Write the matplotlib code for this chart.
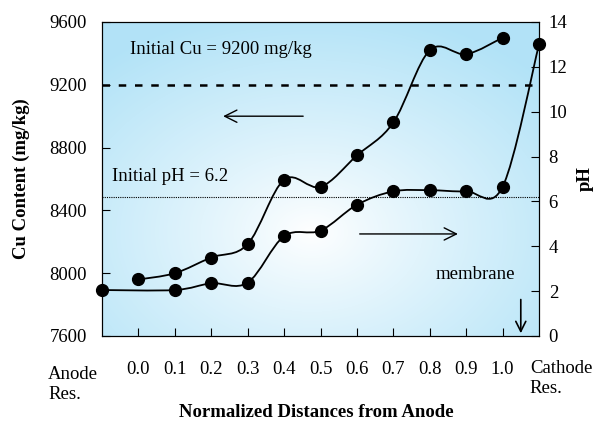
import numpy as np
import matplotlib.pyplot as plt
from matplotlib.path import Path
from matplotlib.patches import PathPatch
import matplotlib.transforms as mtransforms

plt.rcParams['font.family'] = ['Liberation Serif', 'DejaVu Serif']

# data
cu_x = [0.0, 0.1, 0.2, 0.3, 0.4, 0.5, 0.6, 0.7, 0.8, 0.9, 1.0]
cu_val = [7960, 8000, 8100, 8185, 8595, 8550, 8750, 8960, 9420, 9395, 9500]
ph_x = [-0.1, 0.1, 0.2, 0.3, 0.4, 0.5, 0.6, 0.7, 0.8, 0.9, 1.0, 1.1]
ph_val = [2.05, 2.05, 2.35, 2.38, 4.45, 4.7, 5.85, 6.45, 6.5, 6.45, 6.65, 13.0]
tick_pos = [0.0, 0.1, 0.2, 0.3, 0.4, 0.5, 0.6, 0.7, 0.8, 0.9, 1.0]
tick_lab = ['0.0', '0.1', '0.2', '0.3', '0.4', '0.5', '0.6', '0.7', '0.8', '0.9', '1.0']
initial_cu = 9200
initial_ph = 6.2

FS = 13.5


def smooth_path(xs, ys):
    # Catmull-Rom style smoothing drawn as cubic bezier segments
    p = np.column_stack([xs, ys]).astype(float)
    n = len(p)
    verts = [p[0]]
    codes = [Path.MOVETO]
    for i in range(n - 1):
        p0 = p[i - 1] if i > 0 else p[i]
        p3 = p[i + 2] if i + 2 < n else p[i + 1]
        c1 = p[i] + (p[i + 1] - p0) / 6.0
        c2 = p[i + 1] - (p3 - p[i]) / 6.0
        verts += [c1, c2, p[i + 1]]
        codes += [Path.CURVE4] * 3
    return Path(verts, codes)


fig = plt.figure(figsize=(5.94, 4.24), dpi=100)
ax = fig.add_axes([102 / 594, 1 - 336 / 424, 437 / 594, 314 / 424])
ax2 = ax.twinx()

ax.set_xlim(-0.1, 1.1)
ax.set_ylim(7600, 9600)
ax2.set_ylim(0, 14)

# radial gradient background
gx, gy = np.meshgrid(np.linspace(0, 1, 300), np.linspace(0, 1, 300))
r = np.sqrt(((gx - 0.48) / 0.72) ** 2 + ((gy - 0.33) / 0.72) ** 2)
r = np.clip(r, 0, 1) ** 0.9
outer = np.array([0.70, 0.89, 0.97])
inner = np.array([1.0, 1.0, 1.0])
img = inner[None, None, :] * (1 - r[..., None]) + outer[None, None, :] * r[..., None]
ax.imshow(img, extent=[0, 1, 0, 1], transform=ax.transAxes, origin='lower',
          aspect='auto', zorder=0, interpolation='bilinear')

# reference lines
ax.axhline(initial_cu, color='black', lw=1.8, ls=(0, (3, 3.5)), zorder=2)
ax2.axhline(initial_ph, color='black', lw=0.8, ls=(0, (1, 1)), zorder=2)

# Cu series
ax.add_patch(PathPatch(smooth_path(cu_x, cu_val), fill=False, color='black', lw=1.3, zorder=3))
ax.plot(cu_x, cu_val, 'o', color='black', ms=8.5, zorder=4, clip_on=False)

# pH series
ax2.add_patch(PathPatch(smooth_path(ph_x, ph_val), fill=False, color='black', lw=1.3, zorder=3))
ax2.plot(ph_x, ph_val, 'o', color='black', ms=8.5, zorder=4, clip_on=False)

# annotations
ax.text(-0.022, 9422, 'Initial Cu = 9200 mg/kg', fontsize=FS, ha='left', va='center')
ax2.text(-0.0725, 7.09, 'Initial pH = 6.2', fontsize=FS, ha='left', va='center')
ax.annotate('', xy=(0.225, 9000), xytext=(0.46, 9000),
            arrowprops=dict(arrowstyle='->', lw=1.0, color='black', mutation_scale=22))
ax2.annotate('', xy=(0.885, 4.55), xytext=(0.60, 4.55),
             arrowprops=dict(arrowstyle='->', lw=1.0, color='black', mutation_scale=22))
ax2.text(0.925, 2.75, 'membrane', fontsize=FS, ha='center', va='center')
ax2.annotate('', xy=(1.05, 0.0), xytext=(1.05, 1.75),
             arrowprops=dict(arrowstyle='->', lw=1.2, color='black', mutation_scale=18))

# axes and ticks
ax.set_xticks(tick_pos)
ax.set_xticklabels(tick_lab)
ax.set_yticks(np.arange(7600, 9601, 400))
ax2.set_yticks(np.arange(0, 15, 2))
ax.tick_params(axis='x', direction='in', length=6, pad=18, labelsize=FS)
ax.tick_params(axis='y', direction='in', length=6, pad=11, labelsize=FS)
ax2.tick_params(axis='y', direction='in', length=6, pad=7, labelsize=FS)

trans = mtransforms.blended_transform_factory(ax.transData, ax.transAxes)
ax.text(-0.248, -0.095, 'Anode\nRes.', transform=trans, fontsize=FS,
        ha='left', va='top', linespacing=1.25)
ax.text(1.075, -0.075, 'Cathode\nRes.', transform=trans, fontsize=FS,
        ha='left', va='top', linespacing=1.25)

ax.set_ylabel('Cu Content (mg/kg)', fontsize=FS, fontweight='bold', labelpad=14)
ax2.set_ylabel('pH', fontsize=FS, fontweight='bold')
ax2.yaxis.set_label_coords(1.087, 0.5)
ax.set_xlabel('Normalized Distances from Anode', fontsize=FS, fontweight='bold')
ax.xaxis.set_label_coords(0.49, -0.215)

fig.savefig('out.png', dpi=100)
